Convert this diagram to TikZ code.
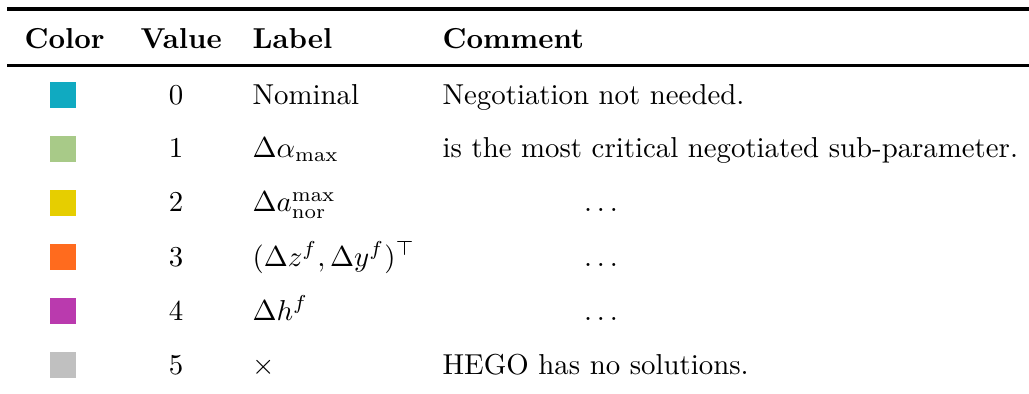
\documentclass[tikz,border=0pt]{standalone}
\usepackage{amsmath, amssymb}
\usepackage{tikz}
\usetikzlibrary{positioning}
\definecolor{swteal}{HTML}{10AAC1}
\definecolor{swgreen}{HTML}{A8CA88}
\definecolor{swyellow}{HTML}{E6CE00}
\definecolor{sworange}{HTML}{FF6B1E}
\definecolor{swmagenta}{HTML}{BA3AAE}
\definecolor{swgray}{HTML}{C0C0C0}
\tikzset{
  swatch/.style={minimum size=9pt, inner sep=0pt},
  headtext/.style={font=\bfseries, anchor=base west, inner sep=0pt},
  celltext/.style={anchor=base west, inner sep=0pt},
  valtext/.style={anchor=base, inner sep=0pt},
  tablerule/.style={line width=1.1pt}
}

\begin{document}
\begin{tikzpicture}[x=0.3470pt, y=-0.3484pt]
  \useasboundingbox (0,0) rectangle (1029,392);
  % rules
  \coordinate (topL) at (7,9);
  \coordinate (topR) at (1029,9);
  \coordinate (midL) at (7,65);
  \coordinate (midR) at (1029,65);
  \draw[tablerule] (topL) -- (topR);
  \draw[tablerule] (midL) -- (midR);
  % header
  \node[headtext] (hcolor) at (24,48) {Color};
  \node[headtext] (hvalue) at (140,48) {Value};
  \node[headtext] (hlabel) at (252,48) {Label};
  \node[headtext] (hcomment) at (442,48) {Comment};
  % row 0
  \node[swatch, fill=swteal] (sq0) at (63,95) {};
  \node[valtext] (val0) at (176,104) {0};
  \node[celltext] (lab0) at (252,104) {Nominal};
  \node[celltext] (com0) at (442,104) {Negotiation not needed.};
  % row 1
  \node[swatch, fill=swgreen] (sq1) at (63,148) {};
  \node[valtext] (val1) at (176,157) {1};
  \node[celltext] (lab1) at (252,157) {$\Delta\alpha_{\max}$};
  \node[celltext] (com1) at (442,157) {is the most critical negotiated sub-parameter.};
  % row 2
  \node[swatch, fill=swyellow] (sq2) at (63,202) {};
  \node[valtext] (val2) at (176,211) {2};
  \node[celltext] (lab2) at (252,211) {$\Delta a^{\max}_{\mathrm{nor}}$};
  \node[valtext] (com2) at (601,211) {$\ldots$};
  % row 3
  \node[swatch, fill=sworange] (sq3) at (63,256) {};
  \node[valtext] (val3) at (176,265) {3};
  \node[celltext] (lab3) at (252,265) {$(\Delta z^f, \Delta y^f)^\top$};
  \node[valtext] (com3) at (601,265) {$\ldots$};
  % row 4
  \node[swatch, fill=swmagenta] (sq4) at (63,310) {};
  \node[valtext] (val4) at (176,319) {4};
  \node[celltext] (lab4) at (252,319) {$\Delta h^f$};
  \node[valtext] (com4) at (601,319) {$\ldots$};
  % row 5
  \node[swatch, fill=swgray] (sq5) at (63,364) {};
  \node[valtext] (val5) at (176,373) {5};
  \node[celltext] (lab5) at (252,373) {$\times$};
  \node[celltext] (com5) at (442,373) {HEGO has no solutions.};
\end{tikzpicture}
\end{document}
